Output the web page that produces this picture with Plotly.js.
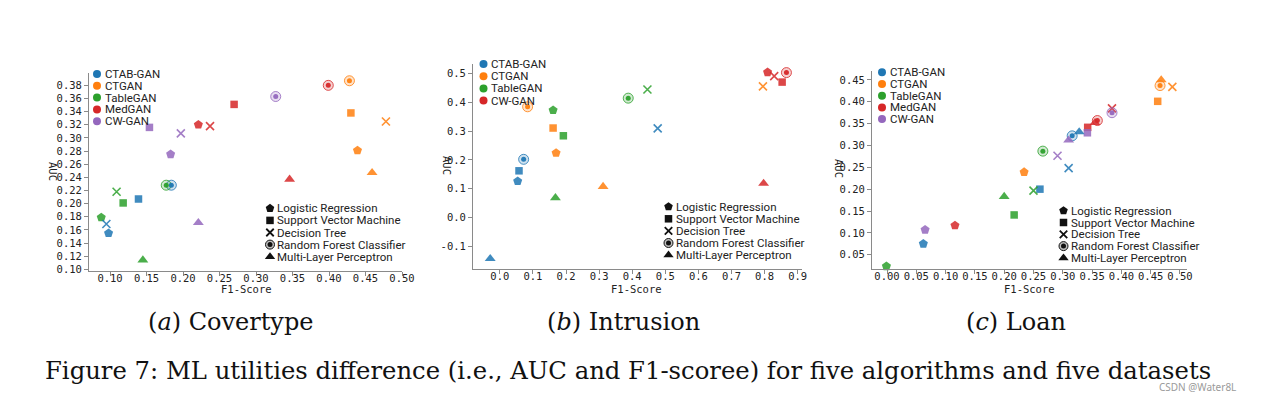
<!DOCTYPE html>
<html><head><meta charset="utf-8">
<script src="https://cdn.plot.ly/plotly-3.0.1.min.js"></script>
<style>html,body{margin:0;padding:0;background:#fff}#chart{width:1280px;height:400px}</style>
</head><body><div id="chart"></div>
<script>
// ---------- categories ----------
const algorithms = ['Logistic Regression','Support Vector Machine','Decision Tree','Random Forest Classifier','Multi-Layer Perceptron'];
const modelsA = ['CTAB-GAN','CTGAN','TableGAN','MedGAN','CW-GAN'];
const modelsB = ['CTAB-GAN','CTGAN','TableGAN','CW-GAN'];
const modelsC = ['CTAB-GAN','CTGAN','TableGAN','MedGAN','CW-GAN'];

// ---------- (a) Covertype : [LR, SVM, DT, RF, MLP] ----------
const covCtabF1  = [0.098, 0.139, 0.095, 0.184, null];
const covCtabAuc = [0.155, 0.207, 0.169, 0.228, null];
const covCtganF1  = [0.439, 0.430, 0.478, 0.428, 0.459];
const covCtganAuc = [0.281, 0.338, 0.325, 0.387, 0.247];
const covTableF1  = [0.088, 0.118, 0.109, 0.177, 0.145];
const covTableAuc = [0.179, 0.201, 0.218, 0.228, 0.114];
const covMedF1  = [0.221, 0.270, 0.237, 0.399, 0.346];
const covMedAuc = [0.320, 0.351, 0.318, 0.380, 0.237];
const covCwF1  = [0.183, 0.154, 0.197, 0.327, 0.221];
const covCwAuc = [0.275, 0.316, 0.307, 0.363, 0.171];

// ---------- (b) Intrusion ----------
const intCtabF1  = [0.054, 0.058, 0.477, 0.072, -0.029];
const intCtabAuc = [0.126, 0.162, 0.310, 0.202, -0.144];
const intCtganF1  = [0.170, 0.161, 0.795, 0.084, 0.312];
const intCtganAuc = [0.224, 0.311, 0.456, 0.385, 0.107];
const intTableF1  = [0.161, 0.192, 0.446, 0.388, 0.168];
const intTableAuc = [0.373, 0.284, 0.445, 0.415, 0.068];
const intCwF1  = [0.809, 0.853, 0.829, 0.866, 0.797];
const intCwAuc = [0.505, 0.471, 0.492, 0.504, 0.118];

// ---------- (c) Loan ----------
const loanCtabF1  = [0.062, 0.261, 0.310, 0.316, 0.328];
const loanCtabAuc = [0.075, 0.200, 0.248, 0.322, 0.331];
const loanCtganF1  = [0.234, 0.462, 0.487, 0.466, 0.468];
const loanCtganAuc = [0.239, 0.401, 0.434, 0.437, 0.450];
const loanTableF1  = [-0.001, 0.217, 0.250, 0.266, 0.200];
const loanTableAuc = [0.0235, 0.141, 0.1965, 0.287, 0.183];
const loanMedF1  = [0.116, 0.3425, 0.384, 0.359, 0.355];
const loanMedAuc = [0.117, 0.3415, 0.385, 0.357, 0.352];
const loanCwF1  = [0.065, 0.342, 0.291, 0.384, 0.310];
const loanCwAuc = [0.107, 0.329, 0.2765, 0.375, 0.312];

// ---------- tick labels ----------
const covXTicks = [0.10,0.15,0.20,0.25,0.30,0.35,0.40,0.45,0.50];
const covYTicks = [0.10,0.12,0.14,0.16,0.18,0.20,0.22,0.24,0.26,0.28,0.30,0.32,0.34,0.36,0.38];
const intXTicks = [0.0,0.1,0.2,0.3,0.4,0.5,0.6,0.7,0.8,0.9];
const intYTicks = [-0.1,0.0,0.1,0.2,0.3,0.4,0.5];
const intYText  = ['-0.1','0.0','0.1','0.2','0.3','0.4','0.5'];
const loanXTicks = [0.00,0.05,0.10,0.15,0.20,0.25,0.30,0.35,0.40,0.45,0.50];
const loanYTicks = [0.05,0.10,0.15,0.20,0.25,0.30,0.35,0.40,0.45];

// ---------- styling ----------
const palette = {'CTAB-GAN':'#1f77b4','CTGAN':'#ff7f0e','TableGAN':'#2ca02c','MedGAN':'#d62728','CW-GAN':'#9467bd'};
const paletteB = {'CTAB-GAN':'#1f77b4','CTGAN':'#ff7f0e','TableGAN':'#2ca02c','CW-GAN':'#d62728'};
function rgba(hex,a){const n=parseInt(hex.slice(1),16);return `rgba(${n>>16},${(n>>8)&255},${n&255},${a})`;}

const W=1280,H=400;
const px=x=>x/W, py=y=>1-y/H;

const panels = [
  {models:modelsA, pal:palette, f1:[covCtabF1,covCtganF1,covTableF1,covMedF1,covCwF1], auc:[covCtabAuc,covCtganAuc,covTableAuc,covMedAuc,covCwAuc], xa:'x', ya:'y'},
  {models:modelsB, pal:paletteB, f1:[intCtabF1,intCtganF1,intTableF1,intCwF1], auc:[intCtabAuc,intCtganAuc,intTableAuc,intCwAuc], xa:'x2', ya:'y2'},
  {models:modelsC, pal:palette, f1:[loanCtabF1,loanCtganF1,loanTableF1,loanMedF1,loanCwF1], auc:[loanCtabAuc,loanCtganAuc,loanTableAuc,loanMedAuc,loanCwAuc], xa:'x3', ya:'y3'}
];

const OP=0.85;
const traces=[];
panels.forEach(p=>{
  algorithms.forEach((alg,a)=>{
    const xs=[],ys=[],cs=[];
    p.models.forEach((m,i)=>{ if(p.f1[i][a]!==null){xs.push(p.f1[i][a]);ys.push(p.auc[i][a]);cs.push(p.pal[m]);} });
    const base={x:xs,y:ys,xaxis:p.xa,yaxis:p.ya,mode:'markers',type:'scatter',hoverinfo:'skip',cliponaxis:false};
    if(a===0) traces.push({...base,marker:{symbol:'pentagon',size:9.5,color:cs.map(c=>rgba(c,OP)),line:{width:0}}});
    if(a===1) traces.push({...base,marker:{symbol:'square',size:7.5,color:cs.map(c=>rgba(c,OP)),line:{width:0}}});
    if(a===2) traces.push({...base,marker:{symbol:'x-thin-open',size:8,color:cs.map(c=>rgba(c,OP)),line:{width:1.6,color:cs.map(c=>rgba(c,OP))}}});
    if(a===3){
      traces.push({...base,marker:{symbol:'circle',size:10,color:cs.map(c=>rgba(c,0.22)),line:{width:1,color:cs.map(c=>rgba(c,0.8))}}});
      traces.push({...base,marker:{symbol:'circle',size:5,color:cs.map(c=>rgba(c,0.95)),line:{width:0}}});
    }
    if(a===4) traces.push({...base,marker:{symbol:'triangle-up',size:9.5,color:cs.map(c=>rgba(c,OP)),line:{width:0}}});
  });
});

// ---------- legends (pixel overlay axis) ----------
const legendSpecs=[
  {models:modelsA,pal:palette,cx:97,ty:74,dy:11.8, sx:270,sy:208.3,sdy:12.1},
  {models:modelsB,pal:paletteB,cx:483.5,ty:64,dy:12.2, sx:668.5,sy:206.7,sdy:12.1},
  {models:modelsC,pal:palette,cx:882,ty:72.3,dy:11.7, sx:1063.5,sy:210.7,sdy:11.8}
];
const shapeSym=['pentagon','square','x-thin-open','circle','triangle-up'];
const shapeSize=[9,7.5,7.5,9,9];
const annotations=[];
const legFont={family:'Roboto, Arial, sans-serif',size:11.5,color:'#222'};
legendSpecs.forEach(L=>{
  traces.push({x:L.models.map(()=>L.cx),y:L.models.map((m,i)=>L.ty+i*L.dy),xaxis:'x4',yaxis:'y4',mode:'markers',hoverinfo:'skip',
    marker:{symbol:'circle',size:8,color:L.models.map(m=>L.pal[m])}});
  L.models.forEach((m,i)=>annotations.push({xref:'paper',yref:'paper',x:px(L.cx+5.5),y:py(L.ty+i*L.dy),xanchor:'left',yanchor:'middle',text:m,showarrow:false,font:legFont}));
  algorithms.forEach((alg,i)=>{
    const yy=L.sy+i*L.sdy;
    if(i===3){
      traces.push({x:[L.sx],y:[yy],xaxis:'x4',yaxis:'y4',mode:'markers',hoverinfo:'skip',marker:{symbol:'circle',size:9,color:'rgba(0,0,0,0.25)',line:{width:1,color:'#111'}}});
      traces.push({x:[L.sx],y:[yy],xaxis:'x4',yaxis:'y4',mode:'markers',hoverinfo:'skip',marker:{symbol:'circle',size:5,color:'#111'}});
    } else {
      traces.push({x:[L.sx],y:[yy],xaxis:'x4',yaxis:'y4',mode:'markers',hoverinfo:'skip',
        marker:{symbol:shapeSym[i],size:shapeSize[i],color:'#111',line:{width:i===2?1.8:0,color:'#111'}}});
    }
    annotations.push({xref:'paper',yref:'paper',x:px(L.sx+5),y:py(yy),xanchor:'left',yanchor:'middle',text:alg,showarrow:false,font:legFont});
  });
});

// ---------- axis titles & captions ----------
const monoFont={family:'DejaVu Sans Mono, monospace',size:10.5,color:'#222'};
[[53,171],[447,165],[839,168]].forEach(([x,y])=>annotations.push({xref:'paper',yref:'paper',x:px(x),y:py(y),text:'AUC',textangle:90,showarrow:false,font:monoFont,xanchor:'center',yanchor:'middle'}));
[[246,288.5],[636,288.5],[1029,288.5]].forEach(([x,y])=>annotations.push({xref:'paper',yref:'paper',x:px(x),y:py(y),text:'F1-Score',showarrow:false,font:monoFont,xanchor:'center',yanchor:'middle'}));
const capFont={family:'DejaVu Serif, serif',size:24,color:'#111'};
[[231,'(<i>a</i>) Covertype'],[623,'(<i>b</i>) Intrusion'],[1016,'(<i>c</i>) Loan']].forEach(([x,t])=>annotations.push({xref:'paper',yref:'paper',x:px(x),y:py(322),text:t,showarrow:false,font:capFont,xanchor:'center',yanchor:'middle'}));
annotations.push({xref:'paper',yref:'paper',x:px(628),y:py(370),text:'Figure 7: ML utilities difference (i.e., AUC and F1-scoree) for five algorithms and five datasets',showarrow:false,font:{family:'DejaVu Serif, serif',size:24.3,color:'#111'},xanchor:'center',yanchor:'middle'});
annotations.push({xref:'paper',yref:'paper',x:px(1238),y:py(387),text:'CSDN @Water8L',showarrow:false,font:{family:'Noto Sans, sans-serif',size:10,color:'#9a9a9a'},xanchor:'right',yanchor:'middle'});

function axis(domain,range,tickvals,fmt,anchor,ticktext,isX){
  const a={domain,range,tickvals,tickformat:fmt,anchor,showline:true,linecolor:'#8a8a8a',linewidth:1,ticks:'outside',ticklen:4,tickcolor:'#8a8a8a',
    showgrid:false,zeroline:false,tickfont:monoFont,fixedrange:true,automargin:false};
  if(ticktext){a.ticktext=ticktext;a.tickmode='array';}
  if(isX){a.ticklabelstandoff=-7;}
  return a;
}

const layout={
  width:W,height:H,autosize:false,margin:{l:0,r:0,t:0,b:0},paper_bgcolor:'#fff',plot_bgcolor:'rgba(0,0,0,0)',showlegend:false,
  xaxis: axis([px(89),px(402)],[0.0712,0.50],covXTicks,'.2f','y',null,true),
  yaxis: axis([py(271),py(73)],[0.0974,0.3988],covYTicks,'.2f','x'),
  xaxis2: axis([px(473),px(802)],[-0.081,0.913],intXTicks,'.1f','y2',null,true),
  yaxis2: axis([py(269.3),py(64)],[-0.181,0.534],intYTicks,'.1f','x2',intYText),
  xaxis3: axis([px(872),px(1187)],[-0.0256,0.512],loanXTicks,'.2f','y3',null,true),
  yaxis3: axis([py(269),py(71)],[0.0173,0.4704],loanYTicks,'.2f','x3'),
  xaxis4:{domain:[0,1],range:[0,W],visible:false,anchor:'y4',fixedrange:true},
  yaxis4:{domain:[0,1],range:[H,0],visible:false,anchor:'x4',fixedrange:true},
  annotations
};
Plotly.newPlot('chart',traces,layout,{staticPlot:true,displayModeBar:false});
</script></body></html>
